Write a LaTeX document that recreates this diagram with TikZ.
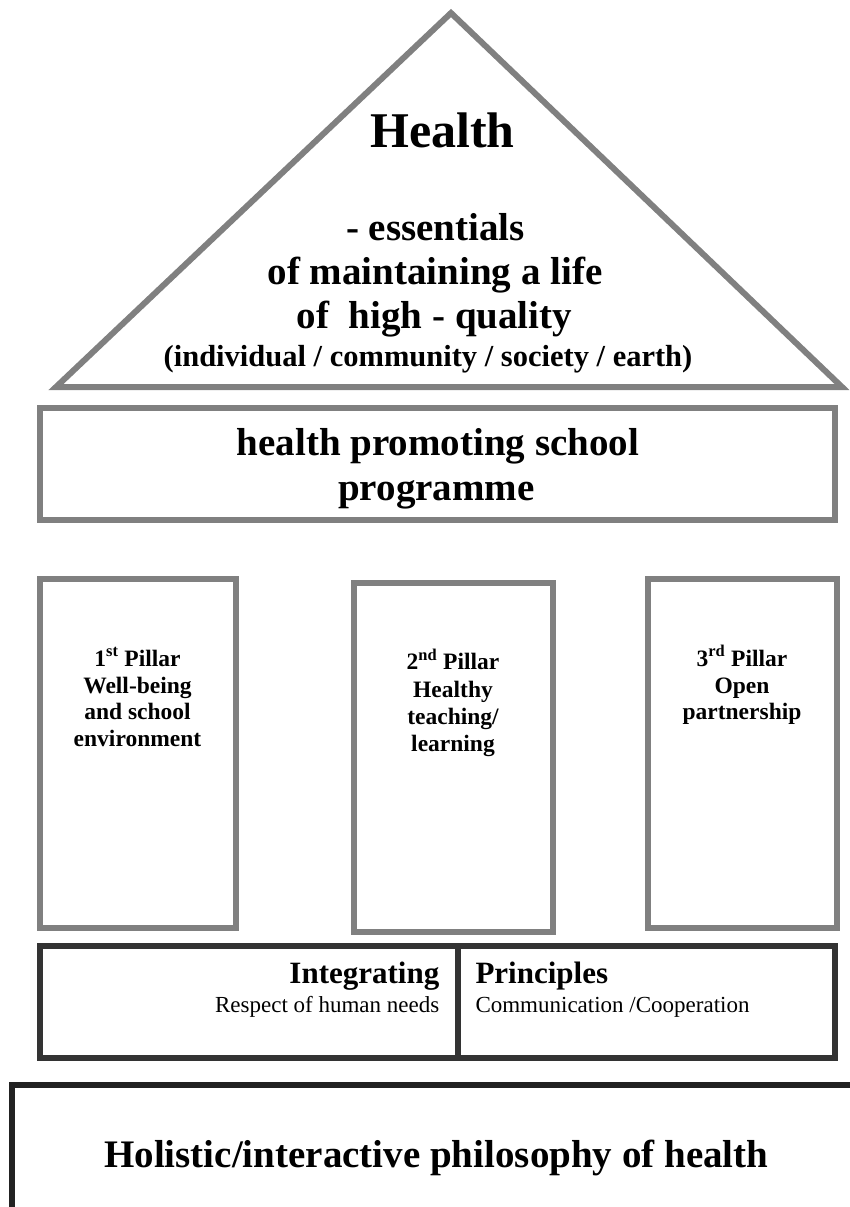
\documentclass[tikz,border=0pt]{standalone}
\usepackage{fontspec}
\setmainfont{Liberation Serif}
\definecolor{lgray}{RGB}{128,128,128}
\definecolor{dgray}{RGB}{51,51,51}
\definecolor{ddgray}{RGB}{34,34,34}
\begin{document}
\begin{tikzpicture}[x=1pt,y=-1pt,
  roof/.style={draw=lgray,line width=6pt,line join=miter},
  graybox/.style={draw=lgray,line width=6pt},
  darkbox/.style={draw=dgray,line width=6pt},
  basebox/.style={draw=ddgray,line width=6pt},
  txt/.style={inner sep=0pt,anchor=base,font=\bfseries},
  pil/.style={txt,font=\fontsize{23.5}{27}\selectfont\bfseries}]
\useasboundingbox (0,0) rectangle (850,1207);
\clip (0,0) rectangle (850,1207);
% roof
\coordinate (apex) at (451,13);
\coordinate (bl) at (56,387);
\coordinate (br) at (842,387);
\draw[roof] (apex) -- (br) -- (bl) -- cycle;
\node[txt,font=\fontsize{50}{56}\selectfont\bfseries] (health) at (442.5,147.7) {Health};
\node[txt,font=\fontsize{39}{44}\selectfont\bfseries] (ess) at (435.5,240) {- essentials};
\node[txt,font=\fontsize{39}{44}\selectfont\bfseries] (maint) at (435,284) {of maintaining a life};
\node[txt,font=\fontsize{39}{44}\selectfont\bfseries] (high) at (434.5,328.3) {of\ \ high - quality};
\node[txt,font=\fontsize{30.5}{34}\selectfont\bfseries] (indiv) at (428,366.5) {(individual / community / society / earth)};
% programme
\draw[graybox] (39.7,408) rectangle (834.5,519.7);
\node[txt,font=\fontsize{39}{44}\selectfont\bfseries] (prog1) at (438,455) {health promoting school};
\node[txt,font=\fontsize{39}{44}\selectfont\bfseries] (prog2) at (436.5,500) {programme};
% pillars
\draw[graybox] (40,578.5) rectangle (235.5,928);
\draw[graybox] (353.7,583) rectangle (553,931.5);
\draw[graybox] (648,578.5) rectangle (836.5,928);
\node[pil] (p1a) at (137.5,666) {1\textsuperscript{st} Pillar};
\node[pil] (p1b) at (137.5,693.3) {Well-being};
\node[pil] (p1c) at (137.5,719.5) {and school};
\node[pil] (p1d) at (137.5,746.5) {environment};
\node[pil] (p2a) at (453,669.5) {2\textsuperscript{nd} Pillar};
\node[pil] (p2b) at (453,697) {Healthy};
\node[pil] (p2c) at (453,724) {teaching/};
\node[pil] (p2d) at (453,751.5) {learning};
\node[pil] (p3a) at (742,666) {3\textsuperscript{rd} Pillar};
\node[pil] (p3b) at (742,693.3) {Open};
\node[pil] (p3c) at (742,719.5) {partnership};
% principles
\draw[darkbox] (40,946) rectangle (834.5,1058);
\draw[darkbox] (458,946) -- (458,1058);
\node[txt,anchor=base east,font=\fontsize{31}{35}\selectfont\bfseries] (integ) at (439.5,983.5) {Integrating};
\node[txt,anchor=base east,font=\fontsize{23}{27}\selectfont] (resp) at (439.5,1012.7) {Respect of human needs};
\node[txt,anchor=base west,font=\fontsize{31}{35}\selectfont\bfseries] (princ) at (475.3,983.5) {Principles};
\node[txt,anchor=base west,font=\fontsize{23}{27}\selectfont] (comm) at (475.3,1012.7) {Communication /Cooperation};
% base
\draw[basebox] (12.3,1084.7) rectangle (880,1240);
\node[txt,font=\fontsize{39}{44}\selectfont\bfseries] (holi) at (436.3,1167.5) {Holistic/interactive philosophy of health};
\end{tikzpicture}
\end{document}
